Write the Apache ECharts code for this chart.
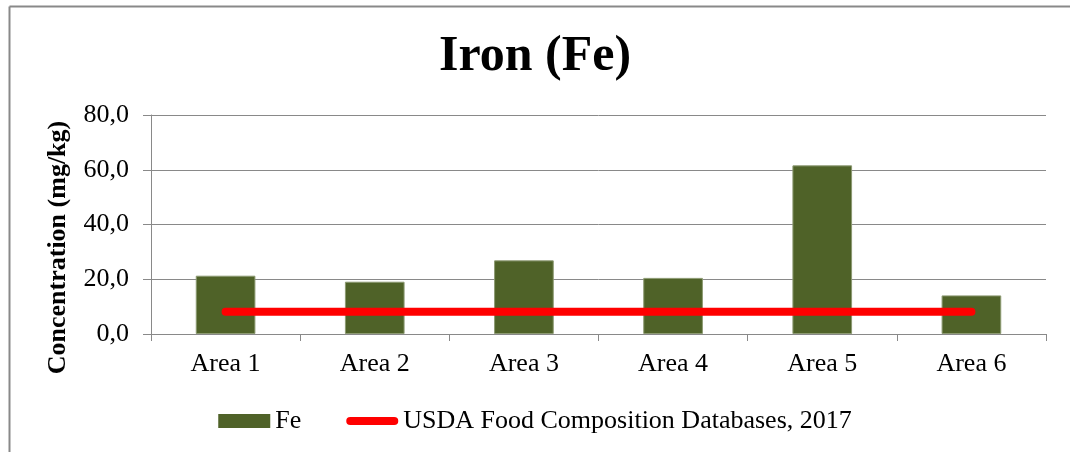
<!DOCTYPE html>
<html lang="en">
<head>
    <meta charset="UTF-8">
    <title>Iron (Fe)</title>
    <style>
        html, body { margin: 0; padding: 0; background: #fff; }
        #chart { width: 1070px; height: 452px; }
    </style>
</head>
<body>
    <div id="chart"></div>
    <script src="https://cdn.jsdelivr.net/npm/echarts@6/dist/echarts.min.js"></script>
    <script>
    // data
    var areas = ['Area 1', 'Area 2', 'Area 3', 'Area 4', 'Area 5', 'Area 6'];
    var feValues = [21.3, 19.1, 26.9, 20.5, 61.6, 14.1];
    var usdaValues = [8.1, 8.1, 8.1, 8.1, 8.1, 8.1];
    var yTicks = [0, 20, 40, 60, 80];

    var serif = '"Liberation Serif", "Times New Roman", serif';
    var grey = '#898989';
    // thick rounded red stroke in a 52x14 box (the two moves keep the box size)
    var lineIcon = 'path://M0,0M52,14M4,3L48,3A4,4 0 0 1 48,11L4,11A4,4 0 0 1 4,3Z';

    var chart = echarts.init(document.getElementById('chart'));
    chart.setOption({
        animation: false,
        textStyle: { fontFamily: serif, color: '#000' },
        title: {
            text: 'Iron (Fe)',
            left: 'center',
            top: 27,
            textStyle: { fontFamily: serif, fontSize: 50, fontWeight: 'bold', color: '#000' }
        },
        grid: { left: 151, right: 24, top: 115, bottom: 118, containLabel: false },
        legend: {
            top: 403,
            left: 'center',
            itemWidth: 52,
            itemHeight: 14,
            itemGap: 45,
            textStyle: { fontFamily: serif, fontSize: 26, color: '#000' },
            data: [
                { name: 'Fe', icon: 'rect', itemStyle: { borderWidth: 0 } },
                { name: 'USDA Food Composition Databases, 2017', icon: lineIcon,
                  itemStyle: { color: '#FF0000', borderWidth: 0 } }
            ]
        },
        xAxis: {
            type: 'category',
            data: areas,
            axisLine: { lineStyle: { color: grey, width: 1 } },
            axisTick: { show: true, length: 7, lineStyle: { color: grey } },
            axisLabel: { fontFamily: serif, fontSize: 26, color: '#000', margin: 17 }
        },
        yAxis: {
            type: 'value',
            min: yTicks[0],
            max: yTicks[yTicks.length - 1],
            interval: 20,
            name: 'Concentration (mg/kg)',
            nameLocation: 'middle',
            nameGap: 80,
            nameTextStyle: {
                fontFamily: serif, fontSize: 26, fontWeight: 'bold', color: '#000',
                padding: [0, 46, 0, 0]
            },
            axisLine: { show: true, lineStyle: { color: grey, width: 1 } },
            axisTick: { show: true, length: 8, lineStyle: { color: grey } },
            splitLine: { lineStyle: { color: grey, width: 1 } },
            axisLabel: {
                fontFamily: serif, fontSize: 26, color: '#000', margin: 22,
                formatter: function (v) { return v.toFixed(1).replace('.', ','); }
            }
        },
        series: [
            {
                name: 'Fe',
                type: 'bar',
                data: feValues,
                barWidth: '40%',
                itemStyle: { color: '#4F6228', borderColor: '#8C9A72', borderWidth: 1 }
            },
            {
                name: 'USDA Food Composition Databases, 2017',
                type: 'line',
                data: usdaValues,
                symbol: 'none',
                lineStyle: { color: '#FF0000', width: 8, cap: 'round' },
                itemStyle: { color: '#FF0000' }
            }
        ],
        graphic: [
            { type: 'line', shape: { x1: 9.5, y1: 6.5, x2: 1070, y2: 6.5 }, style: { stroke: grey, lineWidth: 2 } },
            { type: 'line', shape: { x1: 9.5, y1: 6.5, x2: 9.5, y2: 452 }, style: { stroke: grey, lineWidth: 2 } }
        ]
    });
    </script>
</body>
</html>
